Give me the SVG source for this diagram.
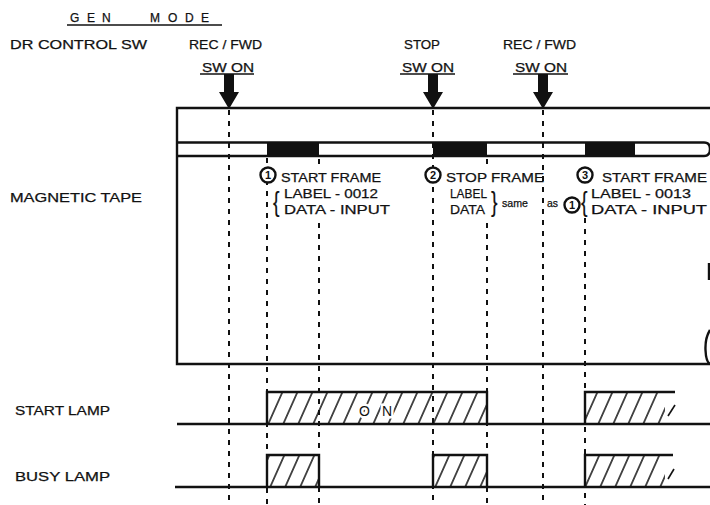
<svg xmlns="http://www.w3.org/2000/svg" width="710" height="505" viewBox="0 0 710 505">
<defs>
<style>
text{font-family:"Liberation Sans","DejaVu Sans",sans-serif;fill:#111;stroke:#111;stroke-width:0.25}
.s13{font-size:13.5px}
.s12{font-size:12px}
.s9{font-size:10.5px}
.br{font-size:28px;stroke-width:0.2}
.num{font-size:11px;font-weight:bold;text-anchor:middle;stroke-width:0}
.on{font-size:14px;stroke:#fff;stroke-width:5;paint-order:stroke}
.ln{stroke:#111;stroke-width:2.4;fill:none}
.dash{stroke:#111;stroke-width:2;stroke-dasharray:5 6;fill:none}
.ul{stroke:#111;stroke-width:1.5}
.circ{fill:#fff;stroke:#111;stroke-width:2.4}
.hatch{fill:url(#hp)}
.hl{stroke:#111;stroke-width:1.6}
</style>
<pattern id="hp" patternUnits="userSpaceOnUse" width="15" height="40" patternTransform="skewX(-24)">
<line x1="7" y1="-2" x2="7" y2="42" stroke="#111" stroke-width="1.6"/>
</pattern>
<path id="arr" d="M-5,0 L5,0 L5,18 L10,18 L0,35 L-10,18 L-5,18 Z" fill="#111"/>
</defs>

<g id="title">
<text class="s12" x="70 87 102 150 168 185 201" y="22">GENMODE</text>
<line class="ul" x1="67" y1="25" x2="222" y2="25"/>
</g>
<g id="label-dr"><text class="s13" x="10" y="49" textLength="137" lengthAdjust="spacingAndGlyphs">DR CONTROL SW</text></g>
<g id="label-tape"><text class="s13" x="10" y="202" textLength="132" lengthAdjust="spacingAndGlyphs">MAGNETIC  TAPE</text></g>
<g id="label-start"><text class="s13" x="15" y="415" textLength="95" lengthAdjust="spacingAndGlyphs">START  LAMP</text></g>
<g id="label-busy"><text class="s13" x="15" y="481" textLength="95" lengthAdjust="spacingAndGlyphs">BUSY  LAMP</text></g>

<g id="sw1">
<text class="s13" x="189" y="49" textLength="73" lengthAdjust="spacingAndGlyphs">REC / FWD</text>
<text class="s12" x="202" y="72" textLength="52" lengthAdjust="spacingAndGlyphs">SW ON</text>
<line class="ul" x1="200" y1="74" x2="254" y2="74"/>
<use href="#arr" x="229" y="74"/>
</g>
<g id="sw2">
<text class="s13" x="404" y="49" textLength="36" lengthAdjust="spacingAndGlyphs">STOP</text>
<text class="s12" x="402" y="72" textLength="52" lengthAdjust="spacingAndGlyphs">SW ON</text>
<line class="ul" x1="400" y1="74" x2="455" y2="74"/>
<use href="#arr" x="433" y="74"/>
</g>
<g id="sw3">
<text class="s13" x="503" y="49" textLength="73" lengthAdjust="spacingAndGlyphs">REC / FWD</text>
<text class="s12" x="515" y="72" textLength="52" lengthAdjust="spacingAndGlyphs">SW ON</text>
<line class="ul" x1="513" y1="74" x2="568" y2="74"/>
<use href="#arr" x="543" y="74"/>
</g>

<g id="tape">
<path class="ln" d="M710,108 H177 V364 H710"/>
<line class="ln" x1="177" y1="142.5" x2="704" y2="142.5"/>
<line class="ln" x1="177" y1="156" x2="704" y2="156"/>
<path class="ln" d="M704,142.5 Q710,142.5 710,149 Q710,156 704,156"/>
<rect x="267" y="142" width="52" height="15" fill="#111"/>
<rect x="433" y="142" width="54" height="15" fill="#111"/>
<rect x="585" y="142" width="50" height="15" fill="#111"/>
<path class="ln" d="M710,330 Q705,338 705.5,350 Q706,362 710,364"/>
<line class="ln" x1="709" y1="263" x2="709" y2="280"/>
</g>

<g id="connectors">
<line class="dash" x1="229" y1="110" x2="229" y2="505"/>
<line class="dash" x1="267" y1="158" x2="267" y2="505"/>
<line class="dash" x1="319" y1="159" x2="319" y2="166"/>
<line class="dash" x1="319" y1="223" x2="319" y2="505"/>
<line class="dash" x1="433" y1="110" x2="433" y2="505"/>
<line class="dash" x1="487" y1="159" x2="487" y2="166"/>
<line class="dash" x1="487" y1="223" x2="487" y2="505"/>
<line class="dash" x1="543" y1="110" x2="543" y2="505"/>
<line class="dash" x1="585" y1="218" x2="585" y2="505"/>
</g>

<g id="frame1">
<circle class="circ" cx="268" cy="175" r="7.5"/>
<text class="num" x="268" y="179">1</text>
<text class="s13" x="281" y="182" textLength="100" lengthAdjust="spacingAndGlyphs">START  FRAME</text>
<text class="br" x="0" y="0" transform="translate(273,211) scale(0.7,1)">{</text>
<text class="s13" x="284" y="198" textLength="94" lengthAdjust="spacingAndGlyphs">LABEL - 0012</text>
<text class="s13" x="284" y="214" textLength="106" lengthAdjust="spacingAndGlyphs">DATA  -  INPUT</text>
</g>

<g id="frame2">
<circle class="circ" cx="433" cy="175" r="7.5"/>
<text class="num" x="433" y="179">2</text>
<text class="s13" x="446" y="182" textLength="98" lengthAdjust="spacingAndGlyphs">STOP  FRAME</text>
<text class="s13" x="450" y="198" textLength="37" lengthAdjust="spacingAndGlyphs">LABEL</text>
<text class="s13" x="450" y="214" textLength="35" lengthAdjust="spacingAndGlyphs">DATA</text>
<text class="br" x="0" y="0" transform="translate(491,211) scale(0.7,1)">}</text>
<text class="s9" x="502" y="207" textLength="26" lengthAdjust="spacingAndGlyphs">same</text>
<text class="s9" x="547" y="207" textLength="11" lengthAdjust="spacingAndGlyphs">as</text>
</g>

<g id="frame3">
<circle class="circ" cx="585" cy="175" r="7.5"/>
<text class="num" x="585" y="179">3</text>
<circle class="circ" cx="572" cy="205" r="7.5"/>
<text class="num" x="572" y="209">1</text>
<text class="br" x="0" y="0" transform="translate(581,211) scale(0.7,1)">{</text>
<text class="s13" x="602" y="182" textLength="105" lengthAdjust="spacingAndGlyphs">START  FRAME</text>
<text class="s13" x="591" y="198" textLength="100" lengthAdjust="spacingAndGlyphs">LABEL - 0013</text>
<text class="s13" x="591" y="214" textLength="116" lengthAdjust="spacingAndGlyphs">DATA  -  INPUT</text>
</g>

<g id="start-lamp">
<line class="ln" x1="177" y1="424" x2="710" y2="424"/>
<rect class="hatch" x="267" y="392" width="220" height="32"/>
<path class="ln" d="M267,424 V392 H487 V424"/>
<text class="on" x="359" y="416" textLength="33" lengthAdjust="spacing">O N</text>
<rect class="hatch" x="585" y="392" width="80" height="32"/>
<line class="hl" x1="668" y1="416" x2="675" y2="405"/>
<path class="ln" d="M585,424 V392 H675"/>
</g>

<g id="busy-lamp">
<line class="ln" x1="175" y1="487" x2="710" y2="487"/>
<rect class="hatch" x="267" y="455" width="52" height="32"/>
<path class="ln" d="M267,487 V455 H319 V487"/>
<rect class="hatch" x="433" y="455" width="54" height="32"/>
<path class="ln" d="M433,487 V455 H487 V487"/>
<rect class="hatch" x="585" y="455" width="80" height="32"/>
<line class="hl" x1="668" y1="479" x2="674" y2="469"/>
<path class="ln" d="M585,487 V455 H673"/>
</g>
</svg>
